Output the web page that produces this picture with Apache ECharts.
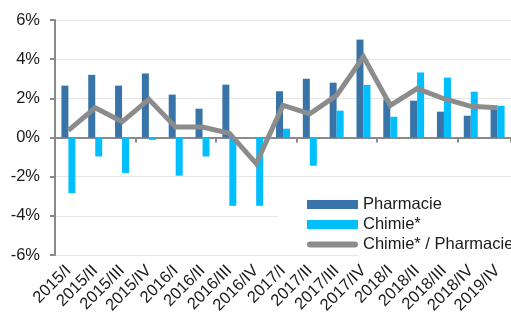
<!DOCTYPE html>
<html>
<head>
<meta charset="utf-8">
<script src="https://cdn.jsdelivr.net/npm/echarts@6/dist/echarts.min.js"></script>
<style>
  html, body { margin: 0; padding: 0; background: #fff; }
  #chart { width: 511px; height: 320px; }
</style>
</head>
<body>
<div id="chart"></div>
<script>
// Quarterly growth rates (%)
const quarters = ['2015/I', '2015/II', '2015/III', '2015/IV', '2016/I', '2016/II', '2016/III', '2016/IV',
  '2017/I', '2017/II', '2017/III', '2017/IV', '2018/I', '2018/II', '2018/III', '2018/IV', '2019/IV'];
const pharmacie = [2.65, 3.2, 2.65, 3.27, 2.19, 1.47, 2.7, 0, 2.36, 3.0, 2.8, 5.0, 1.95, 1.88, 1.32, 1.11, 1.5];
const chimie = [-2.84, -0.97, -1.81, -0.12, -1.95, -0.97, -3.49, -3.49, 0.45, -1.44, 1.37, 2.68, 1.06, 3.32, 3.06, 2.34, 1.62];
const ratio = [0.36, 1.52, 0.8, 1.95, 0.53, 0.53, 0.22, -1.33, 1.64, 1.21, 2.15, 4.12, 1.64, 2.5, 1.98, 1.59, 1.52];
const yTicks = { min: -6, max: 6, step: 2 };

const FONT = '"Liberation Sans", Arial, sans-serif';
const chart = echarts.init(document.getElementById('chart'));

chart.setOption({
  animation: false,
  backgroundColor: '#fff',
  grid: { left: 55, right: 0, top: 20, bottom: 65 },
  // white panel behind the legend, hiding the gridlines there
  graphic: [
    { type: 'rect', z: 3, shape: { x: 278, y: 184, width: 233, height: 66 }, style: { fill: '#fff' } },
    { type: 'rect', z: 3, shape: { x: 359, y: 184, width: 152, height: 74 }, style: { fill: '#fff' } }
  ],
  legend: {
    orient: 'vertical',
    left: 302,
    top: 191,
    itemWidth: 51,
    itemHeight: 9,
    itemGap: 3,
    textStyle: { fontFamily: FONT, fontSize: 16.5, color: '#1a1a1a', lineHeight: 17 },
    data: [
      { name: 'Pharmacie', icon: 'rect' },
      { name: 'Chimie*', icon: 'rect' },
      { name: 'Chimie* / Pharmacie', icon: 'path://M0,0L0.01,0M3,1.5H48A3,3,0,0,1,48,7.5H3A3,3,0,0,1,3,1.5ZM0,9L0.01,9', itemStyle: { color: '#8c8c8c' } }
    ]
  },
  xAxis: [
    {
      type: 'category',
      data: quarters,
      position: 'bottom',
      axisLine: { onZero: true, lineStyle: { color: '#8a8a8a', width: 2 } },
      axisTick: { show: true, length: 5, lineStyle: { color: '#8a8a8a', width: 2 } },
      axisLabel: { show: false },
      splitLine: { show: false }
    },
    {
      type: 'category',
      data: quarters,
      position: 'bottom',
      axisLine: { show: false, onZero: false },
      axisTick: { show: false },
      axisLabel: {
        interval: 0, rotate: 45, margin: 13,
        fontFamily: FONT, fontSize: 16.5, color: '#1a1a1a'
      },
      splitLine: { show: false }
    }
  ],
  yAxis: {
    type: 'value',
    min: yTicks.min,
    max: yTicks.max,
    interval: yTicks.step,
    axisLine: { show: true, lineStyle: { color: '#8a8a8a', width: 2 } },
    axisTick: { show: true, length: 5, lineStyle: { color: '#8a8a8a', width: 2 } },
    axisLabel: { formatter: '{value}%', margin: 15, fontFamily: FONT, fontSize: 16.5, color: '#1a1a1a' },
    splitLine: { show: true, lineStyle: { color: '#e6e6e6', width: 1 } }
  },
  series: [
    {
      name: 'Pharmacie', type: 'bar', data: pharmacie,
      barWidth: 7, barGap: '0%',
      itemStyle: { color: '#3874a8' }
    },
    {
      name: 'Chimie*', type: 'bar', data: chimie,
      barWidth: 7, barGap: '0%',
      itemStyle: { color: '#00bfff' }
    },
    {
      name: 'Chimie* / Pharmacie', type: 'line', data: ratio,
      symbol: 'none', z: 5,
      lineStyle: { color: '#8c8c8c', width: 5, join: 'miter' },
      itemStyle: { color: '#8c8c8c' }
    }
  ]
});
</script>
</body>
</html>
